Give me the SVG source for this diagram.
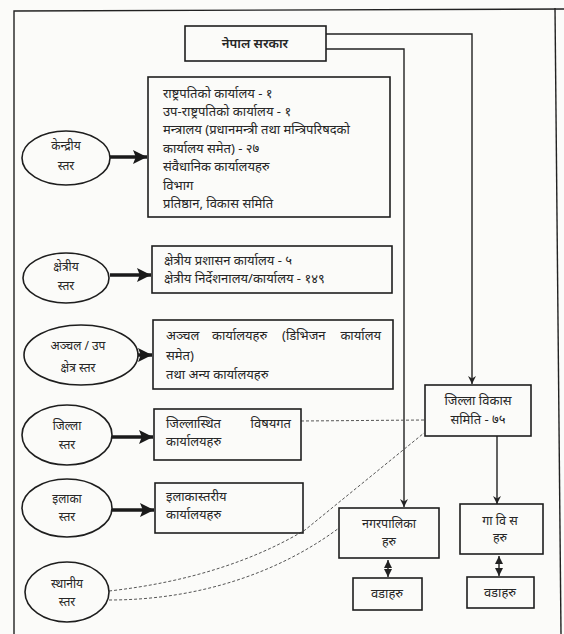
<svg xmlns="http://www.w3.org/2000/svg" width="564" height="634" viewBox="0 0 564 634">
<defs>
<style>
.t{font-family:"Noto Sans","Noto Sans Devanagari","Lohit Devanagari",sans-serif;font-size:13px;fill:#262626}
.e{font-size:12px}
.s{font-size:12.5px}
.c{text-anchor:middle}
.r{text-anchor:end}
.box{fill:none;stroke:#1e1e1e;stroke-width:1.6}
.ell{fill:none;stroke:#1e1e1e;stroke-width:1.6}
.ln{fill:none;stroke:#222;stroke-width:1.4}
.thick{fill:none;stroke:#1a1a1a;stroke-width:3.5}
.dot{fill:none;stroke:#555;stroke-width:1;stroke-dasharray:3 2}
</style>
<marker id="ah" viewBox="0 0 10 10" refX="10" refY="5" markerWidth="8" markerHeight="8" markerUnits="userSpaceOnUse" orient="auto">
<path d="M0,0 L10,5 L0,10 L3,5 Z" fill="#222"/>
</marker>
<marker id="ahs" viewBox="0 0 10 10" refX="10" refY="5" markerWidth="8" markerHeight="8" markerUnits="userSpaceOnUse" orient="auto-start-reverse">
<path d="M0,0 L10,5 L0,10 Z" fill="#222"/>
</marker>
<marker id="big" viewBox="0 0 10 10" refX="10" refY="5" markerWidth="14" markerHeight="14" markerUnits="userSpaceOnUse" orient="auto">
<path d="M0,0 L10,5 L0,10 L2,5 Z" fill="#1a1a1a"/>
</marker>
</defs>
<rect x="0" y="0" width="564" height="634" fill="#fbfbf9"/>
<g id="frame">
<path d="M14,634 L14,11 L564,9" class="ln" stroke-width="1.6"/>
<path d="M555,8 L561,634" class="ln" stroke-width="1.6"/>
</g>
<g id="connectors">
<path d="M326,34 L472,34 L472,384" class="ln" marker-end="url(#ah)"/>
<path d="M326,49 L404,49 L404,507" class="ln" marker-end="url(#ah)"/>
<path d="M497,436 L497,504" class="ln" marker-end="url(#ah)"/>
<path d="M388,560 L388,577" class="ln" stroke-width="2.2" marker-start="url(#ahs)" marker-end="url(#ahs)"/>
<path d="M499,556 L499,576" class="ln" stroke-width="2.2" marker-start="url(#ahs)" marker-end="url(#ahs)"/>
<path d="M110,157 L147,157" class="thick" marker-end="url(#big)"/>
<path d="M110,275 L151,275" class="thick" marker-end="url(#big)"/>
<path d="M138,355 L152,355" class="thick" marker-end="url(#big)"/>
<path d="M112,437 L153,437" class="thick" marker-end="url(#big)"/>
<path d="M112,510 L154,510" class="thick" marker-end="url(#big)"/>
<path d="M301,421 L425,420" class="dot"/>
<path d="M109,591 C190,582 255,560 305,530 L424,433" class="dot"/>
<path d="M109,600 C200,600 280,572 339,528" class="dot"/>
</g>
<g id="nepal-sarkar">
<rect x="185" y="26" width="141" height="35" class="box"/>
<text x="255" y="48" class="t c" font-size="14" font-weight="600">नेपाल सरकार</text>
</g>
<g id="kendriya">
<ellipse cx="66" cy="158" rx="44" ry="27" class="ell"/>
<text x="66" y="150" class="t e c">केन्द्रीय</text>
<text x="66" y="170" class="t e c">स्तर</text>
</g>
<g id="kendriya-offices">
<rect x="148" y="77" width="242" height="140" class="box"/>
<text x="163" y="98" class="t">राष्ट्रपतिको कार्यालय - १</text>
<text x="163" y="116" class="t">उप-राष्ट्रपतिको कार्यालय - १</text>
<text x="163" y="134" class="t">मन्त्रालय (प्रधानमन्त्री तथा मन्त्रिपरिषदको</text>
<text x="163" y="153" class="t">कार्यालय समेत) - २७</text>
<text x="163" y="171" class="t">संवैधानिक कार्यालयहरु</text>
<text x="163" y="190" class="t">विभाग</text>
<text x="163" y="208" class="t">प्रतिष्ठान, विकास समिति</text>
</g>
<g id="kshetriya">
<ellipse cx="66" cy="278" rx="43" ry="25" class="ell"/>
<text x="66" y="271" class="t e c">क्षेत्रीय</text>
<text x="66" y="290" class="t e c">स्तर</text>
</g>
<g id="kshetriya-offices">
<rect x="152" y="246" width="240" height="47" class="box"/>
<text x="164" y="265" class="t">क्षेत्रीय प्रशासन कार्यालय - ५</text>
<text x="164" y="283" class="t">क्षेत्रीय निर्देशनालय/कार्यालय - १४९</text>
</g>
<g id="anchal">
<ellipse cx="81" cy="355" rx="57" ry="30" class="ell"/>
<text x="78" y="350" class="t e c">अञ्चल / उप</text>
<text x="78" y="372" class="t e c">क्षेत्र स्तर</text>
</g>
<g id="anchal-offices">
<rect x="153" y="320" width="240" height="69" class="box"/>
<text x="166" y="340" class="t">अञ्चल</text>
<text x="212" y="340" class="t">कार्यालयहरु</text>
<text x="282" y="340" class="t">(डिभिजन</text>
<text x="381" y="340" class="t r">कार्यालय</text>
<text x="166" y="360" class="t">समेत)</text>
<text x="166" y="379" class="t">तथा अन्य कार्यालयहरु</text>
</g>
<g id="jilla">
<ellipse cx="67" cy="435" rx="45" ry="30" class="ell"/>
<text x="67" y="430" class="t e c">जिल्ला</text>
<text x="67" y="449" class="t e c">स्तर</text>
</g>
<g id="jilla-offices">
<rect x="154" y="409" width="147" height="51" class="box"/>
<text x="166" y="428" class="t">जिल्लास्थित</text>
<text x="291" y="428" class="t r">विषयगत</text>
<text x="166" y="446" class="t">कार्यालयहरु</text>
</g>
<g id="ilaka">
<ellipse cx="67" cy="508" rx="45" ry="29" class="ell"/>
<text x="67" y="503" class="t e c">इलाका</text>
<text x="67" y="521" class="t e c">स्तर</text>
</g>
<g id="ilaka-offices">
<rect x="155" y="483" width="148" height="50" class="box"/>
<text x="166" y="501" class="t">इलाकास्तरीय</text>
<text x="166" y="519" class="t">कार्यालयहरु</text>
</g>
<g id="sthaniya">
<ellipse cx="67" cy="592" rx="42" ry="30" class="ell"/>
<text x="67" y="588" class="t e c">स्थानीय</text>
<text x="67" y="606" class="t e c">स्तर</text>
</g>
<g id="jilla-vikas-samiti">
<rect x="425" y="385" width="106" height="51" class="box"/>
<text x="478" y="405" class="t c">जिल्ला विकास</text>
<text x="478" y="424" class="t c">समिति - ७५</text>
</g>
<g id="nagarpalika">
<rect x="339" y="508" width="100" height="50" class="box"/>
<text x="389" y="528" class="t s c">नगरपालिका</text>
<text x="389" y="546" class="t s c">हरु</text>
</g>
<g id="gavisa">
<rect x="460" y="504" width="83" height="50" class="box"/>
<text x="500" y="525" class="t s c">गा वि स</text>
<text x="500" y="542" class="t s c">हरु</text>
</g>
<g id="wada-1">
<rect x="353" y="578" width="69" height="32" class="box"/>
<text x="387" y="598" class="t c" font-size="11.5">वडाहरु</text>
</g>
<g id="wada-2">
<rect x="467" y="577" width="67" height="31" class="box"/>
<text x="500" y="597" class="t c" font-size="11.5">वडाहरु</text>
</g>
</svg>
